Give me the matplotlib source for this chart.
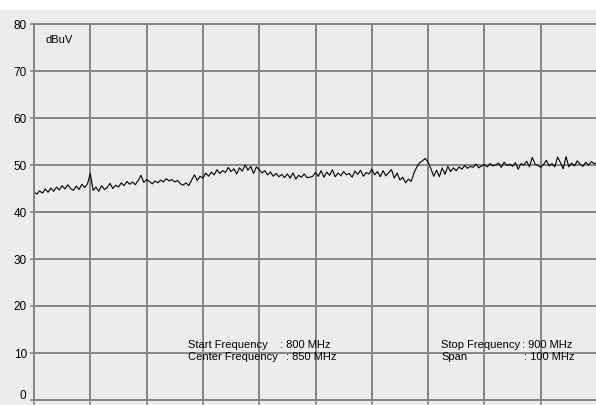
import numpy as np
import matplotlib
matplotlib.use('Agg')
import matplotlib.pyplot as plt
from matplotlib.patches import Rectangle

# trace, one value per 0.5 MHz
freq_start = 800
freq_step = 0.5
level = [
    44.3, 43.8, 44.5, 44.0, 44.9, 44.2, 45.1, 44.4, 45.3, 44.7,
    45.6, 44.9, 45.8, 45.0, 44.6, 45.5, 44.8, 45.9, 45.2, 46.0,
    48.2, 44.6, 45.3, 44.4, 45.6, 44.8, 45.2, 46.1, 45.0, 45.7,
    45.3, 46.2, 45.6, 46.5, 45.9, 46.4, 45.8, 46.7, 47.8, 46.3,
    46.9, 46.5, 46.0, 46.6, 46.2, 46.8, 46.4, 47.1, 46.6, 46.9,
    46.4, 46.7, 46.0, 45.7, 46.2, 45.6, 46.8, 47.9, 46.7, 47.6,
    47.2, 48.3, 47.6, 48.5, 47.9, 49.0, 48.2, 48.8, 48.4, 49.5,
    48.6, 49.2, 48.1, 49.4, 48.7, 50.0, 48.9, 49.7, 48.2, 49.6,
    49.0, 48.3, 48.8, 47.9, 48.5, 47.6, 48.2, 47.5, 48.0, 47.3,
    48.1, 47.2, 48.3, 47.0, 47.8, 47.4, 48.1, 47.3, 47.4, 47.6,
    48.4, 47.6, 48.8, 47.4, 48.5, 47.8, 49.0, 47.5, 48.3, 47.7,
    48.6, 47.9, 48.2, 47.4, 48.7, 48.0, 48.9, 47.6, 48.4, 48.1,
    49.1, 47.9, 48.6, 47.5, 48.8, 47.7, 48.4, 49.0, 47.2, 48.3,
    46.8, 47.4, 46.2, 47.0, 46.5, 48.3, 49.6, 50.5, 50.9, 51.4,
    50.6, 49.2, 47.6, 48.9, 47.5, 49.4, 48.0, 49.7, 48.6, 49.4,
    48.8, 49.6, 49.1, 49.9, 49.3, 49.7, 49.5, 50.2, 49.4, 49.8,
    50.1, 49.6, 50.3, 49.8, 50.0, 50.4, 49.5, 50.6, 49.9, 50.2,
    49.7, 50.5, 49.1, 50.3, 50.0, 50.8, 49.6, 51.6, 50.2, 49.9,
    49.5, 50.1, 51.0, 49.8, 50.3, 49.6, 51.7, 50.5, 49.2, 51.8,
    49.6, 50.4, 49.8, 50.9, 50.2, 49.7, 50.6, 50.0, 50.7, 50.3,
    50.5,
]
freq = freq_start + freq_step * np.arange(len(level))

y_ticks = [0, 10, 20, 30, 40, 50, 60, 70, 80]
x_ticks = np.arange(800, 901, 10)
info = [
    ("Start Frequency", ": 800 MHz"),
    ("Center Frequency", ": 850 MHz"),
    ("Stop Frequency", ": 900 MHz"),
    ("Span", ": 100 MHz"),
]

W, H = 596, 405
bg = '#ECECEC'
gridc = '#868686'
plt.rcParams['font.family'] = ['Liberation Sans', 'DejaVu Sans']

fig = plt.figure(figsize=(W / 100, H / 100), dpi=100)
fig.patch.set_facecolor('white')
fig.patches.append(Rectangle((0, 0), 1, 395 / H, transform=fig.transFigure,
                             facecolor=bg, edgecolor='none', zorder=-10))

ax = fig.add_axes([34 / W, 5 / H, 563 / W, 376 / H])
ax.set_facecolor(bg)
ax.plot(freq, level, color='black', lw=0.8)
ax.set_xlim(800, 900)
ax.set_ylim(0, 80)
ax.set_xticks(x_ticks)
ax.set_yticks(y_ticks)
ax.set_xticklabels([])
# bottom label would be clipped by the edge, drawn by hand below
ax.set_yticklabels([''] + [str(v) for v in y_ticks[1:]])
ax.grid(True, color=gridc, lw=1.4)
ax.set_axisbelow(True)
ax.tick_params(axis='x', direction='out', length=4, width=1.2, color=gridc)
ax.tick_params(axis='y', direction='out', length=3, width=1.2, color=gridc,
               labelsize=8.5, pad=2)
for s in ['left', 'bottom', 'top']:
    ax.spines[s].set_color(gridc)
    ax.spines[s].set_linewidth(1.4)
ax.spines['right'].set_visible(False)
ax.spines['bottom'].set_clip_on(False)


def px(x, y):
    return x / W, 1 - y / H


fig.text(*px(26, 396), str(y_ticks[0]), fontsize=8.5, va='center', ha='right')
fig.text(*px(45, 40), "dBuV", fontsize=8, va='center', ha='left')

pos = [((188, 345), 280), ((188, 357), 286), ((441, 345), 522), ((441, 357), 524)]
for (name, val), ((x, y), xc) in zip(info, pos):
    fig.text(*px(x, y), name, fontsize=8, va='center', ha='left')
    fig.text(*px(xc, y), val, fontsize=8, va='center', ha='left')

fig.savefig('out.png', dpi=100, facecolor=fig.get_facecolor())
